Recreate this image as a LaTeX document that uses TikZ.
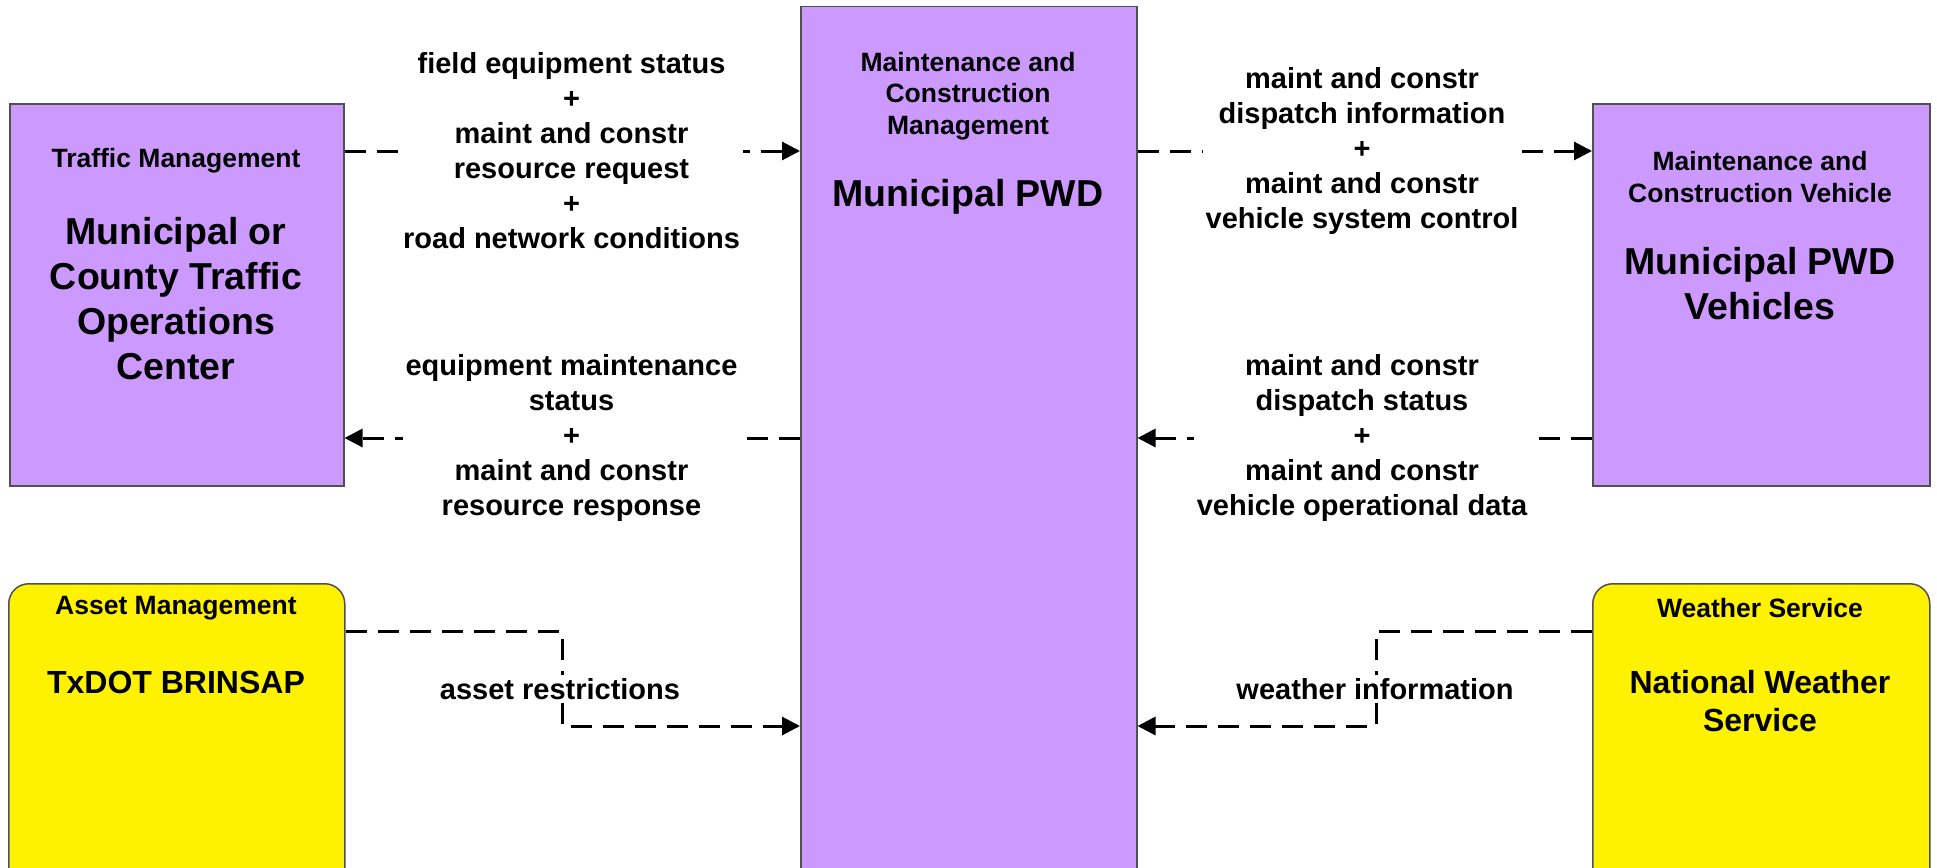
\documentclass[tikz,border=0pt]{standalone}
\usepackage{fontspec}
\setmainfont{Liberation Sans}
\usetikzlibrary{arrows.meta,calc}
\definecolor{purpleC}{RGB}{204,153,255}
\definecolor{edgeC}{RGB}{80,80,80}
\begin{document}
\begin{tikzpicture}[x=1pt,y=-1pt,
 box/.style={draw=edgeC, line width=1.5pt, anchor=north west, inner sep=0pt},
 pbox/.style={box, fill=purpleC},
 ybox/.style={box, fill=yellow, rounded corners=20pt},
 ttl/.style={font=\bfseries\fontsize{26.5}{31.5}\selectfont, align=center, inner sep=0pt},
 big/.style={font=\bfseries\fontsize{37.5}{45}\selectfont, align=center, inner sep=0pt},
 bigy/.style={font=\bfseries\fontsize{32}{38}\selectfont, align=center, inner sep=0pt},
 lbl/.style={font=\bfseries\fontsize{29}{35}\selectfont, align=center, fill=white, inner sep=3pt},
 flow/.style={line width=3pt, dash pattern=on 21pt off 11pt, -{Triangle[length=18pt,width=18pt]}},
 plain/.style={line width=3pt, dash pattern=on 21pt off 11pt}
]
\useasboundingbox (0,0) rectangle (1937,867);
% boxes
\node[pbox, minimum width=334pt, minimum height=382pt] (tm) at (9,103) {};
\node[pbox, minimum width=336pt, minimum height=900pt] (mc) at (800,6) {};
\node[pbox, minimum width=337pt, minimum height=382pt] (mv) at (1592,103) {};
\node[ybox, minimum width=336pt, minimum height=330pt] (am) at (8,583) {};
\node[ybox, minimum width=337pt, minimum height=330pt] (ws) at (1592,583) {};
% box texts
\node[ttl] (tmT) at (176,161) {Traffic Management};
\node[big] (tmN) at (176,299) {Municipal or\\County Traffic\\Operations\\Center};
\node[ttl] (mcT) at (968,96) {Maintenance and\\Construction\\Management};
\node[big] (mcN) at (968,197) {Municipal PWD};
\node[ttl] (mvT) at (1760,177) {Maintenance and\\Construction Vehicle};
\node[big] (mvN) at (1760,284) {Municipal PWD\\Vehicles};
\node[ttl] (amT) at (176,608) {Asset Management};
\node[bigy] (amN) at (176,682) {TxDOT BRINSAP};
\node[ttl] (wsT) at (1760,608) {Weather Service};
\node[bigy] (wsN) at (1760,701) {National Weather\\Service};
% rows
\coordinate (ya) at (0,151);
\coordinate (yb) at (0,438);
\coordinate (yc) at (0,631);
\coordinate (yd) at (0,726);
\coordinate (ak) at (562,631);
\coordinate (wk) at (1376,631);
% connectors
\draw[flow] (tm.east |- ya) -- (mc.west |- ya);
\draw[flow] (mc.west |- yb) -- (tm.east |- yb);
\draw[flow] (mc.east |- ya) -- (mv.west |- ya);
\draw[flow] (mv.west |- yb) -- (mc.east |- yb);
\draw[flow] (am.east |- yc) -- (ak) |- (mc.west |- yd);
\draw[flow] (ws.west |- yc) -- (wk) |- (mc.east |- yd);
% labels
\node[lbl] (l1) at (571.5,151) {field equipment status\\+\\maint and constr\\resource request\\+\\road network conditions};
\node[lbl] (l2) at (571.5,438) {equipment maintenance\\status\\+\\maint and constr\\resource response};
\node[lbl] (l3) at (1362,151) {maint and constr\\dispatch information\\+\\maint and constr\\vehicle system control};
\node[lbl] (l4) at (1362,438) {maint and constr\\dispatch status\\+\\maint and constr\\vehicle operational data};
\node[lbl] (l5) at (560,689) {asset restrictions};
\node[lbl] (l6) at (1375,689) {weather information};
\end{tikzpicture}
\end{document}
